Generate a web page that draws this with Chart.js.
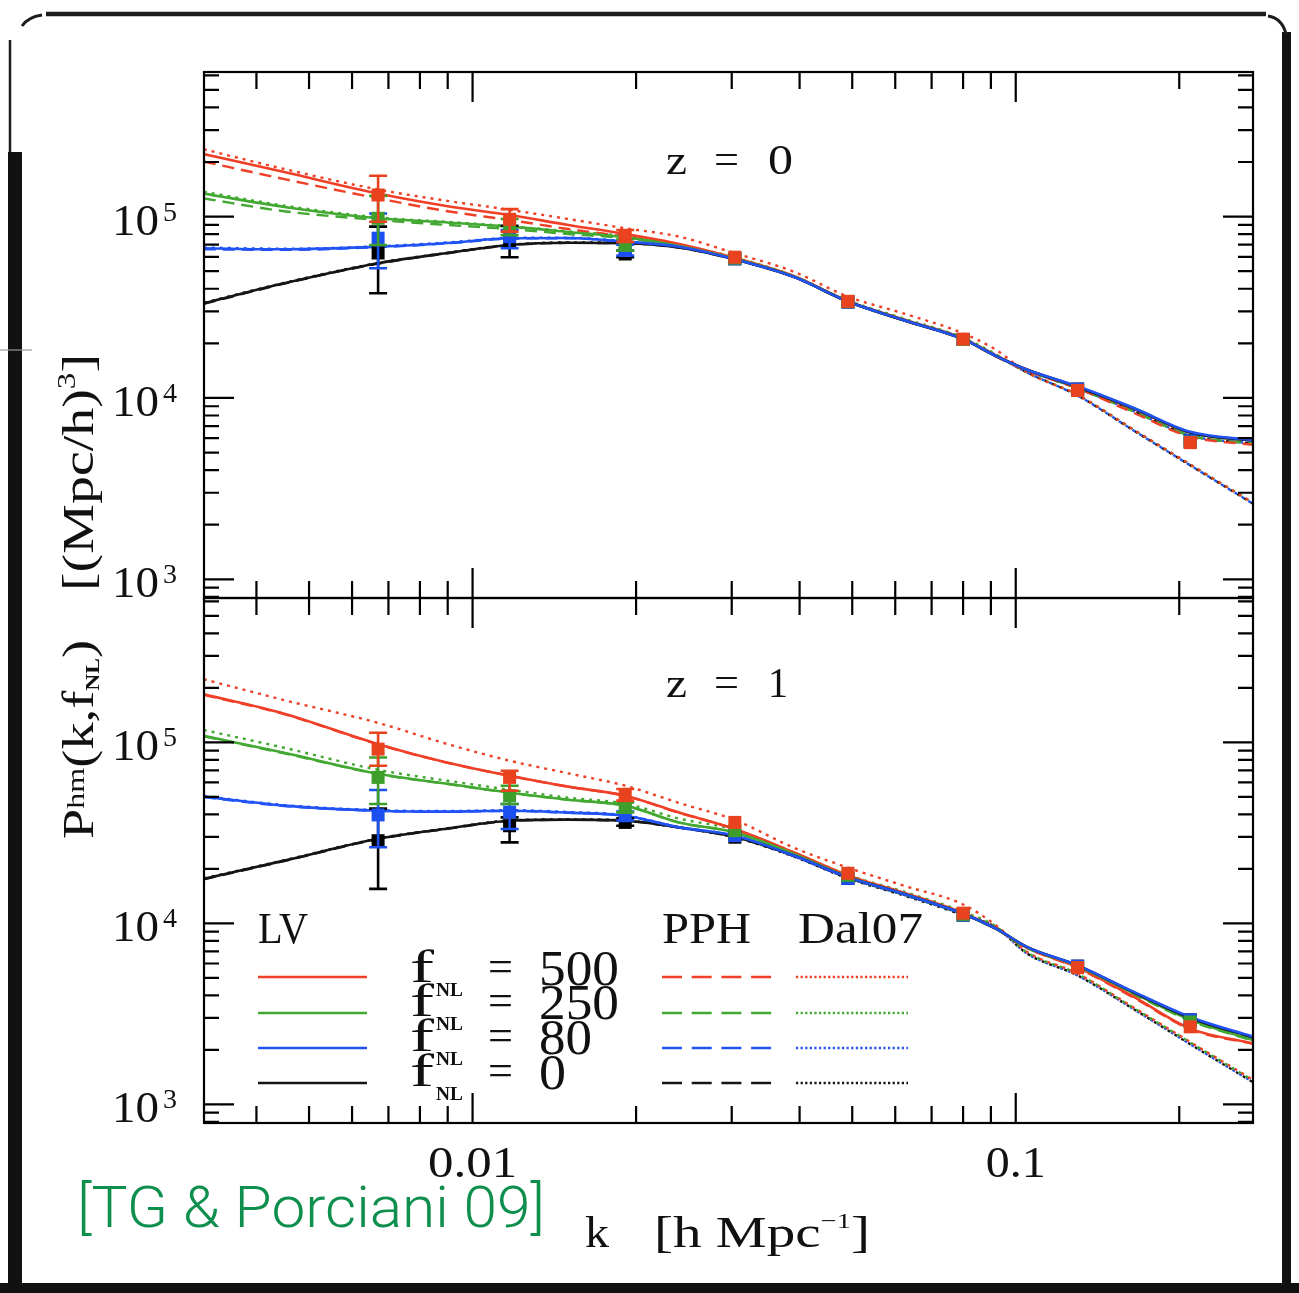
<!DOCTYPE html>
<html><head><meta charset="utf-8">
<script src="https://cdn.jsdelivr.net/npm/chart.js@4.4.1/dist/chart.umd.min.js"></script>
<style>
html,body{margin:0;padding:0;background:#fff;}
#wrap{position:relative;width:1299px;height:1293px;overflow:hidden;}
canvas{position:absolute;left:0;top:0;}
</style></head><body>
<div id="wrap"><canvas id="c0" width="1299" height="1293"></canvas><canvas id="c1" width="1299" height="1293"></canvas></div>
<script>
// ---------------- DATA ----------------
const kCurve = [0.0032, 0.0045, 0.0067, 0.009, 0.0117, 0.015, 0.0191, 0.024, 0.0304, 0.039, 0.0491, 0.062, 0.080, 0.092, 0.105, 0.130, 0.165, 0.2095, 0.274];
const kData  = [0.0067, 0.0117, 0.0191, 0.0304, 0.0491, 0.080, 0.130, 0.2095];
const fnlValues = ['500', '250', '80', '0'];
const panelLabels = ['0', '1'];
const xTickValues = [0.01, 0.1];
const xTickLabels = ['0.01', '0.1'];
const yTickValues = [1e3, 1e4, 1e5];
const yTickExps = ['3', '4', '5'];
const modelNames = ['LV', 'PPH', 'Dal07'];

// z = 0 panel curves
const z0_LV_500  = [2.21e5, 1.76e5, 1.34e5, 1.14e5, 1.02e5, 8.99e4, 8.02e4, 7.06e4, 5.91e4, 4.70e4, 3.42e4, 2.71e4, 2.12e4, 1.71e4, 1.43e4, 1.15e4, 8.7e3, 6.45e3, 5.8e3];
const z0_PPH_500 = [2.01e5, 1.61e5, 1.26e5, 1.07e5, 9.58e4, 8.54e4, 7.75e4, 6.89e4, 5.84e4, 4.66e4, 3.40e4, 2.68e4, 2.10e4, 1.69e4, 1.41e4, 1.13e4, 8.27e3, 6.12e3, 5.51e3];
const z0_Dal_500 = [2.35e5, 1.83e5, 1.41e5, 1.22e5, 1.09e5, 9.70e4, 8.62e4, 7.75e4, 6.28e4, 4.97e4, 3.62e4, 2.93e4, 2.27e4, 1.84e4, 1.38e4, 1.04e4, 6.67e3, 4.30e3, 2.63e3];
const z0_LV_250  = [1.34e5, 1.13e5, 9.79e4, 9.28e4, 8.80e4, 8.23e4, 7.69e4, 6.89e4, 5.85e4, 4.67e4, 3.40e4, 2.69e4, 2.11e4, 1.70e4, 1.43e4, 1.15e4, 8.77e3, 6.45e3, 5.82e3];
const z0_PPH_250 = [1.26e5, 1.07e5, 9.58e4, 8.99e4, 8.54e4, 8.02e4, 7.59e4, 6.85e4, 5.84e4, 4.66e4, 3.40e4, 2.69e4, 2.11e4, 1.70e4, 1.42e4, 1.13e4, 8.4e3, 6.2e3, 5.6e3];
const z0_Dal_250 = [1.37e5, 1.15e5, 9.9e4, 9.35e4, 8.85e4, 8.3e4, 7.8e4, 7.0e4, 5.95e4, 4.72e4, 3.45e4, 2.75e4, 2.15e4, 1.74e4, 1.38e4, 1.04e4, 6.67e3, 4.3e3, 2.63e3];
const z0_LV_80   = [6.69e4, 6.60e4, 6.82e4, 7.15e4, 7.59e4, 7.62e4, 7.27e4, 6.82e4, 5.82e4, 4.66e4, 3.40e4, 2.69e4, 2.11e4, 1.70e4, 1.43e4, 1.16e4, 8.8e3, 6.5e3, 5.85e3];
const z0_PPH_80  = [6.6e4, 6.55e4, 6.78e4, 7.12e4, 7.55e4, 7.6e4, 7.25e4, 6.8e4, 5.82e4, 4.66e4, 3.40e4, 2.69e4, 2.11e4, 1.70e4, 1.42e4, 1.13e4, 8.45e3, 6.2e3, 5.6e3];
const z0_Dal_80  = [6.75e4, 6.65e4, 6.86e4, 7.2e4, 7.62e4, 7.65e4, 7.3e4, 6.86e4, 5.85e4, 4.7e4, 3.42e4, 2.72e4, 2.13e4, 1.72e4, 1.38e4, 1.03e4, 6.6e3, 4.25e3, 2.6e3];
const z0_LV_0    = [3.33e4, 4.29e4, 5.53e4, 6.30e4, 6.97e4, 7.18e4, 7.13e4, 6.75e4, 5.80e4, 4.65e4, 3.40e4, 2.69e4, 2.11e4, 1.70e4, 1.43e4, 1.15e4, 8.75e3, 6.45e3, 5.8e3];
const z0_PPH_0   = [3.3e4, 4.27e4, 5.5e4, 6.28e4, 6.95e4, 7.16e4, 7.12e4, 6.74e4, 5.8e4, 4.65e4, 3.40e4, 2.69e4, 2.11e4, 1.70e4, 1.42e4, 1.13e4, 8.45e3, 6.2e3, 5.6e3];
const z0_Dal_0   = [3.35e4, 4.31e4, 5.55e4, 6.32e4, 6.99e4, 7.2e4, 7.15e4, 6.78e4, 5.82e4, 4.68e4, 3.42e4, 2.71e4, 2.12e4, 1.71e4, 1.38e4, 1.03e4, 6.6e3, 4.25e3, 2.6e3];

// z = 0 panel simulation points and error bars
const z0_pts_500 = [1.315e5, 9.66e4, 7.82e4, 5.97e4, 3.41e4, 2.11e4, 1.10e4, 5.67e3];
const z0_lo_500  = [9.37e4, 8.26e4, 7.24e4, null, null, null, null, null];
const z0_hi_500  = [1.68e5, 1.10e5, 8.44e4, null, null, null, null, null];
const z0_pts_250 = [9.79e4, 8.8e4, 6.97e4, 5.9e4, 3.40e4, 2.1e4, 1.1e4, 5.7e3];
const z0_lo_250  = [6.97e4, 7.9e4, 6.5e4, null, null, null, null, null];
const z0_hi_250  = [1.3e5, 9.7e4, 7.5e4, null, null, null, null, null];
const z0_pts_80  = [7.6e4, 7.75e4, 6.5e4, 5.85e4, 3.38e4, 2.1e4, 1.12e4, 5.8e3];
const z0_lo_80   = [5.19e4, 6.69e4, 6.1e4, null, null, null, null, null];
const z0_hi_80   = [1.04e5, 8.44e4, 7.0e4, null, null, null, null, null];
const z0_pts_0   = [6.30e4, 7.3e4, 6.22e4, 5.85e4, 3.38e4, 2.1e4, 1.12e4, 5.8e3];
const z0_lo_0    = [3.78e4, 5.97e4, 5.97e4, null, null, null, null, null];
const z0_hi_0    = [8.8e4, 8.9e4, 6.5e4, null, null, null, null, null];

// z = 1 panel curves
const z1_LV_500  = [1.84e5, 1.44e5, 9.77e4, 7.71e4, 6.54e4, 5.69e4, 5.07e4, 4.09e4, 3.32e4, 2.47e4, 1.84e4, 1.48e4, 1.14e4, 9.38e3, 7.39e3, 5.71e3, 3.92e3, 2.62e3, 2.17e3];
const z1_PPH_500 = [1.83e5, 1.43e5, 9.75e4, 7.7e4, 6.53e4, 5.68e4, 5.06e4, 4.08e4, 3.31e4, 2.46e4, 1.83e4, 1.47e4, 1.13e4, 9.3e3, 7.3e3, 5.65e3, 3.88e3, 2.6e3, 2.15e3];
const z1_Dal_500 = [2.23e5, 1.71e5, 1.28e5, 9.77e4, 7.91e4, 6.74e4, 5.76e4, 4.62e4, 3.72e4, 2.62e4, 2.03e4, 1.62e4, 1.27e4, 9.74e3, 6.94e3, 5.27e3, 3.42e3, 2.21e3, 1.36e3];
const z1_LV_250  = [1.086e5, 8.75e4, 6.70e4, 5.90e4, 5.27e4, 4.82e4, 4.47e4, 3.61e4, 3.18e4, 2.42e4, 1.81e4, 1.46e4, 1.13e4, 9.34e3, 7.39e3, 5.8e3, 4.1e3, 2.93e3, 2.26e3];
const z1_PPH_250 = [1.08e5, 8.7e4, 6.68e4, 5.88e4, 5.26e4, 4.81e4, 4.46e4, 3.6e4, 3.17e4, 2.41e4, 1.80e4, 1.45e4, 1.12e4, 9.3e3, 7.3e3, 5.75e3, 4.05e3, 2.9e3, 2.24e3];
const z1_Dal_250 = [1.17e5, 9.33e4, 7.05e4, 6.13e4, 5.47e4, 4.94e4, 4.58e4, 3.79e4, 3.29e4, 2.47e4, 1.85e4, 1.50e4, 1.16e4, 9.6e3, 6.9e3, 5.25e3, 3.4e3, 2.2e3, 1.35e3];
const z1_LV_80   = [5.01e4, 4.47e4, 4.19e4, 4.14e4, 4.19e4, 4.09e4, 3.93e4, 3.39e4, 3.05e4, 2.37e4, 1.80e4, 1.456e4, 1.13e4, 9.34e3, 7.39e3, 5.86e3, 4.18e3, 3.04e3, 2.36e3];
const z1_PPH_80  = [4.98e4, 4.45e4, 4.18e4, 4.13e4, 4.18e4, 4.08e4, 3.92e4, 3.38e4, 3.04e4, 2.36e4, 1.79e4, 1.45e4, 1.125e4, 9.3e3, 7.35e3, 5.82e3, 4.14e3, 3.0e3, 2.33e3];
const z1_Dal_80  = [5.05e4, 4.5e4, 4.22e4, 4.17e4, 4.22e4, 4.12e4, 3.95e4, 3.4e4, 3.05e4, 2.35e4, 1.78e4, 1.44e4, 1.12e4, 9.5e3, 6.8e3, 5.15e3, 3.35e3, 2.15e3, 1.32e3];
const z1_LV_0    = [1.76e4, 2.22e4, 2.93e4, 3.34e4, 3.69e4, 3.74e4, 3.69e4, 3.39e4, 3.0e4, 2.37e4, 1.80e4, 1.456e4, 1.13e4, 9.34e3, 7.39e3, 5.86e3, 4.15e3, 3.0e3, 2.34e3];
const z1_PPH_0   = [1.75e4, 2.21e4, 2.92e4, 3.33e4, 3.68e4, 3.73e4, 3.68e4, 3.38e4, 2.99e4, 2.36e4, 1.79e4, 1.45e4, 1.125e4, 9.3e3, 7.35e3, 5.82e3, 4.12e3, 2.97e3, 2.31e3];
const z1_Dal_0   = [1.77e4, 2.23e4, 2.94e4, 3.35e4, 3.7e4, 3.75e4, 3.7e4, 3.38e4, 2.98e4, 2.34e4, 1.77e4, 1.43e4, 1.11e4, 9.5e3, 6.8e3, 5.15e3, 3.35e3, 2.15e3, 1.32e3];

// z = 1 panel simulation points and error bars
const z1_pts_500 = [9.17e4, 6.40e4, 5.07e4, 3.61e4, 1.89e4, 1.138e4, 5.69e3, 2.68e3];
const z1_lo_500  = [7.42e4, 5.40e4, 4.76e4, null, null, null, null, null];
const z1_hi_500  = [1.13e5, 6.96e4, 5.52e4, null, null, null, null, null];
const z1_pts_250 = [6.40e4, 5.07e4, 4.37e4, 3.25e4, 1.84e4, 1.12e4, 5.7e3, 2.85e3];
const z1_lo_250  = [4.56e4, 4.56e4, 4.1e4, null, null, null, null, null];
const z1_hi_250  = [8.25e4, 5.76e4, 4.65e4, null, null, null, null, null];
const z1_pts_80  = [3.97e4, 4.11e4, 3.93e4, 3.05e4, 1.77e4, 1.11e4, 5.8e3, 2.93e3];
const z1_lo_80   = [2.63e4, 3.32e4, 3.7e4, null, null, null, null, null];
const z1_hi_80   = [5.45e4, 4.56e4, 4.15e4, null, null, null, null, null];
const z1_pts_0   = [2.86e4, 3.46e4, 3.61e4, 2.99e4, 1.77e4, 1.11e4, 5.8e3, 2.93e3];
const z1_lo_0    = [1.55e4, 2.80e4, 3.46e4, null, null, null, null, null];
const z1_hi_0    = [4.3e4, 3.85e4, 3.8e4, null, null, null, null, null];

// ---------------- STYLE ----------------
const W = 1299, H = 1293;
const SERIF = '"Liberation Serif","DejaVu Serif",serif';
const SANS = 'Roboto,"Liberation Sans",sans-serif';
const LINE_COLORS = ['#ef3f26', '#42a832', '#2052f4', '#151515'];
const PT_COLORS = ['#e9421f', '#3e9e2c', '#1c4ff0', '#000000'];
const XMIN = 0.003203, XMAX = 0.2734, YMIN = 788.6, YMAX = 6.27e5;

function toPts(xs, ys) { return xs.map((x, i) => ({ x: x, y: ys[i] })); }

function buildDatasets(LV, PPH, DAL, PTS, LO, HI) {
  const ds = [];
  const solidOrder = [23, 22, 20, 21];
  for (let j = 0; j < 4; j++) {
    ds.push({ data: toPts(kCurve, DAL[j]), borderColor: LINE_COLORS[j], borderWidth: 2.4, borderDash: [3, 5], pointRadius: 0, fill: false, order: 40 + j });
    ds.push({ data: toPts(kCurve, PPH[j]), borderColor: LINE_COLORS[j], borderWidth: 2.4, borderDash: [12, 7], pointRadius: 0, fill: false, order: 30 + j });
    ds.push({ data: toPts(kCurve, LV[j]), borderColor: LINE_COLORS[j], borderWidth: 2.6, pointRadius: 0, fill: false, order: solidOrder[j] });
    ds.push({ data: toPts(kData, PTS[j]), showLine: false, pointStyle: 'rect', pointRadius: 9.2, pointBackgroundColor: PT_COLORS[j], pointBorderWidth: 0, borderColor: PT_COLORS[j], order: j, errLo: LO[j], errHi: HI[j], errColor: PT_COLORS[j] });
  }
  return ds;
}

function drawRuns(ctx, x, y, runs, fitW) {
  let total = 0;
  const widths = runs.map(r => { ctx.font = (r[3] || '') + ' ' + r[1] + 'px ' + (r[4] || SERIF); const w = ctx.measureText(r[0]).width; total += w; return w; });
  const sx = fitW ? fitW / total : 1;
  ctx.save(); ctx.translate(x, y); ctx.scale(sx, 1);
  let cx = 0;
  runs.forEach((r, i) => { ctx.font = (r[3] || '') + ' ' + r[1] + 'px ' + (r[4] || SERIF); ctx.fillText(r[0], cx, r[2] || 0); cx += widths[i]; });
  ctx.restore();
}

function drawFrame(ctx) {
  ctx.save();
  ctx.fillStyle = '#fff'; ctx.fillRect(0, 0, W, H);
  ctx.strokeStyle = '#1c1c1c'; ctx.fillStyle = '#111';
  ctx.lineWidth = 4.5;
  ctx.beginPath(); ctx.moveTo(46, 14); ctx.lineTo(1266, 14); ctx.stroke();
  ctx.lineWidth = 3;
  ctx.beginPath(); ctx.moveTo(22, 26); ctx.quadraticCurveTo(28, 17, 42, 15); ctx.stroke();
  ctx.lineWidth = 2.5;
  ctx.beginPath(); ctx.moveTo(10, 40); ctx.lineTo(10, 155); ctx.stroke();
  ctx.fillRect(8, 152, 14, 1135);
  ctx.fillRect(1282, 32, 9, 1255);
  ctx.lineWidth = 3;
  ctx.beginPath(); ctx.moveTo(1268, 16); ctx.quadraticCurveTo(1282, 18, 1286, 34); ctx.stroke();
  ctx.fillRect(0, 1283, W, 10);
  ctx.strokeStyle = '#999'; ctx.lineWidth = 1.2;
  ctx.beginPath(); ctx.moveTo(0, 350); ctx.lineTo(32, 350); ctx.stroke();
  ctx.restore();
}

function minorValues(min, max) {
  const out = [];
  for (let e = -4; e <= 6; e++) for (let m = 2; m <= 9; m++) { const v = m * Math.pow(10, e); if (v > min && v < max) out.push(v); }
  return out;
}

const errorBarPlugin = {
  id: 'errbars',
  beforeDatasetDraw(chart, args) {
    const d = chart.data.datasets[args.index];
    if (!d.errLo) return;
    const ctx = chart.ctx, xs = chart.scales.x, ys = chart.scales.y;
    ctx.save(); ctx.strokeStyle = d.errColor; ctx.lineWidth = 2.6;
    kData.forEach((k, i) => {
      if (d.errLo[i] == null) return;
      const px = xs.getPixelForValue(k), y1 = ys.getPixelForValue(d.errLo[i]), y2 = ys.getPixelForValue(d.errHi[i]);
      ctx.beginPath();
      ctx.moveTo(px, y1); ctx.lineTo(px, y2);
      ctx.moveTo(px - 9, y1); ctx.lineTo(px + 9, y1);
      ctx.moveTo(px - 9, y2); ctx.lineTo(px + 9, y2);
      ctx.stroke();
    });
    ctx.restore();
  }
};

function axesPlugin(panel) {
  return {
    id: 'axes' + panel,
    beforeDraw(chart) { if (panel === 0) drawFrame(chart.ctx); },
    afterDatasetsDraw(chart) {
      const ctx = chart.ctx, a = chart.chartArea, xs = chart.scales.x, ys = chart.scales.y;
      ctx.save();
      ctx.strokeStyle = '#000'; ctx.lineWidth = 2.2;
      ctx.strokeRect(a.left, a.top, a.right - a.left, a.bottom - a.top);
      ctx.beginPath();
      xTickValues.forEach(v => { const p = xs.getPixelForValue(v); ctx.moveTo(p, a.top); ctx.lineTo(p, a.top + 30); ctx.moveTo(p, a.bottom); ctx.lineTo(p, a.bottom - 30); });
      minorValues(XMIN, XMAX).forEach(v => { const p = xs.getPixelForValue(v); ctx.moveTo(p, a.top); ctx.lineTo(p, a.top + 17); ctx.moveTo(p, a.bottom); ctx.lineTo(p, a.bottom - 17); });
      yTickValues.forEach(v => { const p = ys.getPixelForValue(v); ctx.moveTo(a.left, p); ctx.lineTo(a.left + 30, p); ctx.moveTo(a.right, p); ctx.lineTo(a.right - 30, p); });
      minorValues(YMIN, YMAX).forEach(v => { const p = ys.getPixelForValue(v); ctx.moveTo(a.left, p); ctx.lineTo(a.left + 15, p); ctx.moveTo(a.right, p); ctx.lineTo(a.right - 15, p); });
      ctx.stroke();
      ctx.restore();
    },
    afterDraw(chart) {
      const ctx = chart.ctx, a = chart.chartArea, xs = chart.scales.x, ys = chart.scales.y;
      ctx.save();
      ctx.fillStyle = '#111'; ctx.textBaseline = 'alphabetic'; ctx.textAlign = 'left';
      yTickValues.forEach((v, i) => {
        const p = ys.getPixelForValue(v);
        drawRuns(ctx, 112, p + 18, [['10', 44]], 47);
        drawRuns(ctx, 163, p + 4, [[yTickExps[i], 27]], 14);
      });
      const zb = panel === 0 ? 174 : 697;
      drawRuns(ctx, 666, zb, [['z', 42]], 21);
      drawRuns(ctx, 714, zb - 1, [['=', 42]], 25);
      drawRuns(ctx, 768, zb, [[panelLabels[panel], 42]], panel === 0 ? 25 : 20);
      if (panel === 1) {
        const xw = [89, 60];
        xTickValues.forEach((v, i) => {
          const p = xs.getPixelForValue(v);
          drawRuns(ctx, p - xw[i] / 2, 1177, [[xTickLabels[i], 44]], xw[i]);
        });
        drawRuns(ctx, 585, 1247, [['k', 44]], 24);
        drawRuns(ctx, 654, 1247, [['[h Mpc', 44], ['\u22121', 22, -19], [']', 44]], 216);
        ctx.save(); ctx.translate(93, 839); ctx.rotate(-Math.PI / 2);
        drawRuns(ctx, 0, 0, [['P', 44], ['hm', 26, -9], ['(k,f', 44], ['NL', 19, 6, 'bold'], [')', 44]], 199);
        drawRuns(ctx, 248, 0, [['[(Mpc/h)', 44], ['3', 26, -18], [']', 44]], 237);
        ctx.restore();
        drawRuns(ctx, 258, 943, [[modelNames[0], 44]], 50);
        drawRuns(ctx, 662, 943, [[modelNames[1], 44]], 89);
        drawRuns(ctx, 798, 943, [[modelNames[2], 44]], 125);
        const rowY = [977, 1013, 1048, 1083];
        const rowB = [982, 1016, 1051, 1086];
        const numW = [80, 80, 53, 27];
        for (let j = 0; j < 4; j++) {
          ctx.strokeStyle = LINE_COLORS[j]; ctx.lineWidth = 2.6;
          ctx.setLineDash([]); ctx.beginPath(); ctx.moveTo(258, rowY[j]); ctx.lineTo(367, rowY[j]); ctx.stroke();
          ctx.setLineDash([20, 9.7]); ctx.beginPath(); ctx.moveTo(662, rowY[j]); ctx.lineTo(772, rowY[j]); ctx.stroke();
          ctx.setLineDash([2.2, 2.4]); ctx.beginPath(); ctx.moveTo(796, rowY[j]); ctx.lineTo(908, rowY[j]); ctx.stroke();
          ctx.setLineDash([]);
          drawRuns(ctx, 410, rowB[j], [['f', 46]], 24);
          drawRuns(ctx, 436, rowB[j] + 14, [['NL', 19, 0, 'bold']], 27);
          drawRuns(ctx, 488, rowB[j] - 1, [['=', 44]], 25);
          drawRuns(ctx, 539, rowB[j] + 3, [[fnlValues[j], 50]], numW[j]);
        }
        ctx.fillStyle = '#0f8f4e';
        drawRuns(ctx, 77, 1227, [['[TG & Porciani 09]', 58, 0, '300', SANS]], 468);
      }
      ctx.restore();
    }
  };
}

function makeChart(id, panel, datasets, padding) {
  return new Chart(document.getElementById(id), {
    type: 'line',
    data: { datasets: datasets },
    options: {
      responsive: false, animation: false, devicePixelRatio: 1,
      layout: { padding: padding },
      plugins: { legend: { display: false }, tooltip: { enabled: false } },
      elements: { line: { cubicInterpolationMode: 'monotone' } },
      scales: {
        x: { type: 'logarithmic', min: XMIN, max: XMAX, display: false },
        y: { type: 'logarithmic', min: YMIN, max: YMAX, display: false }
      }
    },
    plugins: [axesPlugin(panel), errorBarPlugin]
  });
}

const ds0 = buildDatasets(
  [z0_LV_500, z0_LV_250, z0_LV_80, z0_LV_0],
  [z0_PPH_500, z0_PPH_250, z0_PPH_80, z0_PPH_0],
  [z0_Dal_500, z0_Dal_250, z0_Dal_80, z0_Dal_0],
  [z0_pts_500, z0_pts_250, z0_pts_80, z0_pts_0],
  [z0_lo_500, z0_lo_250, z0_lo_80, z0_lo_0],
  [z0_hi_500, z0_hi_250, z0_hi_80, z0_hi_0]);
const ds1 = buildDatasets(
  [z1_LV_500, z1_LV_250, z1_LV_80, z1_LV_0],
  [z1_PPH_500, z1_PPH_250, z1_PPH_80, z1_PPH_0],
  [z1_Dal_500, z1_Dal_250, z1_Dal_80, z1_Dal_0],
  [z1_pts_500, z1_pts_250, z1_pts_80, z1_pts_0],
  [z1_lo_500, z1_lo_250, z1_lo_80, z1_lo_0],
  [z1_hi_500, z1_hi_250, z1_hi_80, z1_hi_0]);

makeChart('c0', 0, ds0, { left: 204, right: 46, top: 72, bottom: 695 });
makeChart('c1', 1, ds1, { left: 204, right: 46, top: 598, bottom: 170 });
</script></body></html>
